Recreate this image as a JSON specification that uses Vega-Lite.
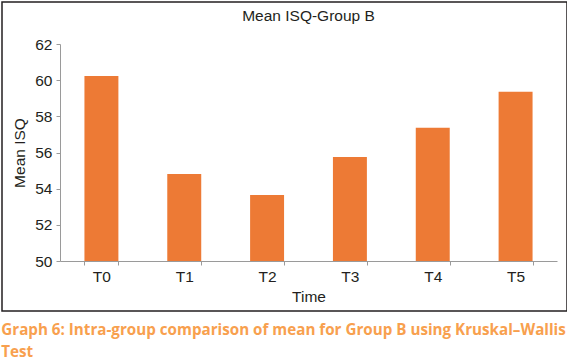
{
  "$schema": "https://vega.github.io/schema/vega-lite/v6.json",
  "padding": {"left": 1, "top": 1, "right": 0, "bottom": 0},
  "background": "white",
  "title": {
    "text": ["Graph 6: Intra-group comparison of mean for Group B using Kruskal–Wallis", "Test"],
    "orient": "bottom",
    "anchor": "start",
    "frame": "bounds",
    "color": "#f8a04e",
    "font": "Open Sans",
    "fontWeight": "bold",
    "fontSize": 15.2,
    "lineHeight": 22,
    "offset": 11
  },
  "vconcat": [
    {
      "width": 565,
      "height": 309,
      "title": {
        "text": "Mean ISQ-Group B",
        "anchor": "middle",
        "frame": "group",
        "dx": 24,
        "offset": -22,
        "font": "Liberation Sans",
        "fontSize": 15.5,
        "fontWeight": "normal",
        "color": "#231f20"
      },
      "data": {
        "values": [
          {"Time": "T0", "MeanISQ": 60.23},
          {"Time": "T1", "MeanISQ": 54.81},
          {"Time": "T2", "MeanISQ": 53.65},
          {"Time": "T3", "MeanISQ": 55.75},
          {"Time": "T4", "MeanISQ": 57.37},
          {"Time": "T5", "MeanISQ": 59.36}
        ]
      },
      "mark": {"type": "bar", "color": "#ed7a35"},
      "encoding": {
        "x": {
          "field": "Time",
          "type": "nominal",
          "sort": null,
          "scale": {"range": [58, 555], "paddingInner": 0.59, "paddingOuter": 0.295},
          "axis": {
            "orient": "bottom",
            "offset": -50,
            "labelAngle": 0,
            "tickBand": "extent",
            "tickSize": 4,
            "labelPadding": 4,
            "titlePadding": 5,
            "domainColor": "#9a9a9a",
            "tickColor": "#9a9a9a",
            "labelFont": "Liberation Sans",
            "labelFontSize": 15.5,
            "labelColor": "#231f20",
            "titleFont": "Liberation Sans",
            "titleFontSize": 15.5,
            "titleFontWeight": "normal",
            "titleColor": "#231f20",
            "grid": false
          }
        },
        "y": {
          "field": "MeanISQ",
          "type": "quantitative",
          "title": "Mean ISQ",
          "scale": {"domain": [50, 62], "range": [259, 42], "zero": false, "nice": false},
          "axis": {
            "orient": "left",
            "offset": -58,
            "values": [50, 52, 54, 56, 58, 60, 62],
            "tickSize": 4,
            "labelPadding": 4,
            "titlePadding": 7,
            "domainColor": "#9a9a9a",
            "tickColor": "#9a9a9a",
            "labelFont": "Liberation Sans",
            "labelFontSize": 15.5,
            "labelColor": "#231f20",
            "titleFont": "Liberation Sans",
            "titleFontSize": 15.5,
            "titleFontWeight": "normal",
            "titleColor": "#231f20",
            "grid": false
          }
        },
        "y2": {"datum": 50}
      }
    }
  ],
  "config": {
    "view": {"stroke": "#231f20", "strokeWidth": 1.5},
    "concat": {"spacing": 0}
  }
}
